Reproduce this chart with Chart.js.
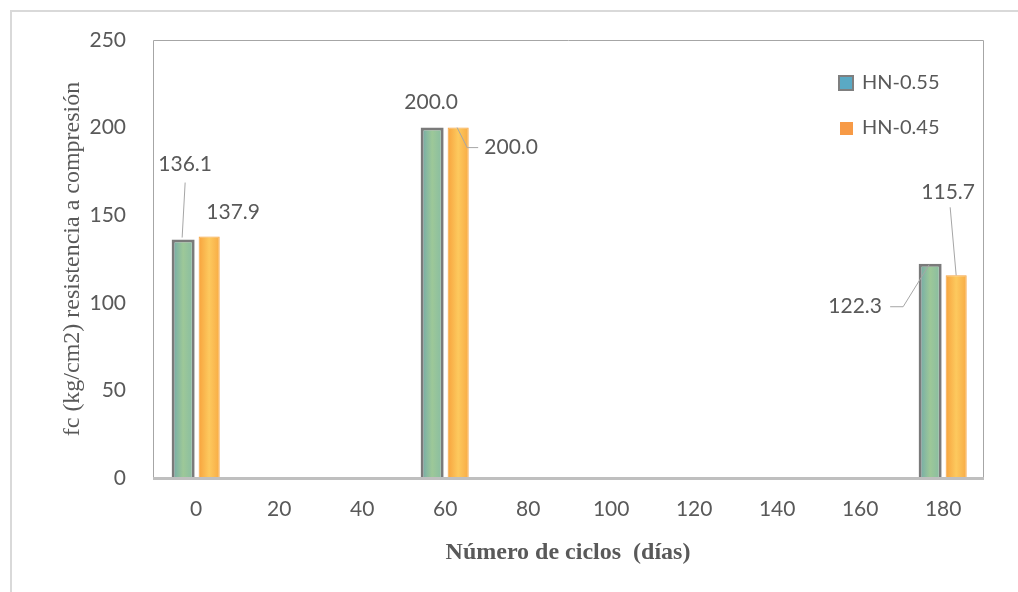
<!DOCTYPE html>
<html>
<head>
<meta charset="utf-8">
<script src="https://cdn.jsdelivr.net/npm/chart.js@4.4.0/dist/chart.umd.min.js"></script>
<style>
html,body{margin:0;padding:0;background:#ffffff;}
#wrap{width:1018px;height:592px;position:relative;}
</style>
</head>
<body>
<div id="wrap"><canvas id="c" width="1018" height="592"></canvas></div>
<script>
// ---- data ----
const days = [0, 60, 180];
const seriesNames = ['HN-0.55', 'HN-0.45'];
const hn055 = [136.1, 200.0, 122.3];
const hn045 = [137.9, 200.0, 115.7];
const yTicks = [0, 50, 100, 150, 200, 250];
const xTicks = [0, 20, 40, 60, 80, 100, 120, 140, 160, 180];
const xTitle = 'Número de ciclos  (días)';
const yTitle = 'fc (kg/cm2) resistencia a compresión';

// ---- styling ----
const TEXT = '#595959';
const SANS = 'Lato';
const SERIF = 'Liberation Serif';
const CAT_PCT = 0.627;
const BAR_PCT = [0.885, 0.81];
const greenStops = [[0, '#6fa8aa'], [0.5, '#9dc898'], [1, '#86bba3']];
const orangeStops = [[0, '#f7a33d'], [0.5, '#fdc95e'], [1, '#f8ab44']];
const legendColors = [{fill: '#5aa9c4', stroke: '#7f7f7f'}, {fill: '#f79a46', stroke: null}];
// label placement relative to bar top-centre (px)
const labelLayout = [
  [ {dx: 2, dy: -75, line: [[2, -57], [-1, -2]]},
    {dx: -1, dy: -25},
    {dx: -75, dy: 43, line: [[-40, 43], [-27, 43], [-1, 1]]} ],
  [ {dx: 24, dy: -24},
    {dx: 53, dy: 20, line: [[-1, 0], [9, 20], [20, 20]]},
    {dx: -8, dy: -83, line: [[-6, -68], [0, 0]]} ]
];

function toPoints(vals) { return days.map((d, i) => ({x: d, y: vals[i]})); }

function barGradient(stops) {
  return function (ctx) {
    const chart = ctx.chart;
    const xs = chart.scales.x;
    if (ctx.type !== 'data' || !xs || !chart.chartArea) return stops[1][1];
    const step = Math.abs(xs.getPixelForValue(xTicks[1]) - xs.getPixelForValue(xTicks[0]));
    const chunk = step * CAT_PCT / 2;
    const cx = xs.getPixelForValue(ctx.raw.x) + (ctx.datasetIndex - 0.5) * chunk;
    const w = chunk * BAR_PCT[ctx.datasetIndex];
    const g = chart.ctx.createLinearGradient(cx - w / 2, 0, cx + w / 2, 0);
    stops.forEach(s => g.addColorStop(s[0], s[1]));
    return g;
  };
}

const framePlugin = {
  id: 'frame',
  beforeDraw(chart) {
    const c = chart.ctx;
    c.save();
    c.fillStyle = '#ffffff';
    c.fillRect(0, 0, chart.width, chart.height);
    c.strokeStyle = '#d9d9d9';
    c.lineWidth = 2;
    c.beginPath();
    c.moveTo(11, chart.height);
    c.lineTo(11, 11);
    c.lineTo(chart.width, 11);
    c.stroke();
    c.restore();
  },
  afterDatasetsDraw(chart) {
    const c = chart.ctx;
    const a = chart.chartArea;
    c.save();
    c.strokeStyle = '#a6a6a6';
    c.lineWidth = 1;
    c.beginPath();
    c.moveTo(Math.round(a.left) + 0.5, a.bottom);
    c.lineTo(Math.round(a.left) + 0.5, Math.round(a.top) + 0.5);
    c.lineTo(Math.round(a.right) + 0.5, Math.round(a.top) + 0.5);
    c.lineTo(Math.round(a.right) + 0.5, a.bottom);
    c.stroke();
    c.strokeStyle = '#bfbfbf';
    c.lineWidth = 3;
    c.beginPath();
    c.moveTo(a.left, a.bottom + 0.5);
    c.lineTo(a.right + 1, a.bottom + 0.5);
    c.stroke();

    // data labels
    c.font = '21px ' + SANS;
    c.fillStyle = TEXT;
    c.textAlign = 'center';
    c.textBaseline = 'middle';
    chart.data.datasets.forEach((ds, di) => {
      const meta = chart.getDatasetMeta(di);
      meta.data.forEach((el, i) => {
        const L = labelLayout[di][i];
        const x0 = el.x, y0 = el.y;
        if (L.line) {
          c.strokeStyle = '#a6a6a6';
          c.lineWidth = 1;
          c.beginPath();
          L.line.forEach((p, k) => {
            const px = x0 + p[0], py = y0 + p[1];
            if (k === 0) c.moveTo(px, py); else c.lineTo(px, py);
          });
          c.stroke();
        }
        c.fillText(ds.data[i].y.toFixed(1), x0 + L.dx, y0 + L.dy);
      });
    });

    // legend
    const lx = 838, ly = [83, 128];
    chart.data.datasets.forEach((ds, di) => {
      const col = legendColors[di];
      const y = ly[di];
      if (col.stroke) {
        c.fillStyle = col.fill;
        c.fillRect(lx + 1, y - 7, 14, 14);
        c.strokeStyle = col.stroke;
        c.lineWidth = 2;
        c.strokeRect(lx + 1, y - 7, 14, 14);
      } else {
        c.fillStyle = col.fill;
        c.fillRect(lx + 2, y - 6, 13, 13);
      }
      c.fillStyle = TEXT;
      c.font = '20px ' + SANS;
      c.textAlign = 'left';
      c.textBaseline = 'middle';
      c.fillText(ds.label, 862, y);
    });
    c.restore();
  }
};

new Chart(document.getElementById('c'), {
  type: 'bar',
  data: {
    datasets: [
      {
        label: seriesNames[0],
        data: toPoints(hn055),
        backgroundColor: barGradient(greenStops),
        borderColor: '#7a7a7a',
        borderWidth: 3,
        borderSkipped: 'bottom',
        categoryPercentage: CAT_PCT,
        barPercentage: BAR_PCT[0]
      },
      {
        label: seriesNames[1],
        data: toPoints(hn045),
        backgroundColor: barGradient(orangeStops),
        borderColor: '#f5a23e',
        borderWidth: 1,
        borderSkipped: 'bottom',
        categoryPercentage: CAT_PCT,
        barPercentage: BAR_PCT[1]
      }
    ]
  },
  options: {
    responsive: false,
    animation: false,
    devicePixelRatio: 1,
    layout: {padding: {top: 40, right: 35, left: 0, bottom: 0}},
    plugins: {legend: {display: false}, tooltip: {enabled: false}},
    scales: {
      x: {
        type: 'linear',
        offset: false,
        min: -10.4,
        max: 189.6,
        afterBuildTicks(s) { s.ticks = xTicks.map(v => ({value: v})); },
        afterFit(s) { s.height = 114; },
        grid: {display: false, drawTicks: false},
        border: {display: false},
        ticks: {font: {family: SANS, size: 21}, color: TEXT, padding: 19, maxRotation: 0, autoSkip: false},
        title: {display: true, text: xTitle, color: TEXT,
                font: {family: SERIF, size: 24, weight: 'bold'}, padding: {top: 0, bottom: 25}}
      },
      y: {
        min: 0,
        max: 250,
        afterBuildTicks(s) { s.ticks = yTicks.map(v => ({value: v})); },
        afterFit(s) { s.width = 153; },
        grid: {display: false, drawTicks: false},
        border: {display: false},
        ticks: {font: {family: SANS, size: 21}, color: TEXT, padding: 27},
        title: {display: true, text: yTitle, color: TEXT,
                font: {family: SERIF, size: 24, weight: 'normal'}, padding: {top: 58, bottom: 0}}
      }
    }
  },
  plugins: [framePlugin]
});
</script>
</body>
</html>
